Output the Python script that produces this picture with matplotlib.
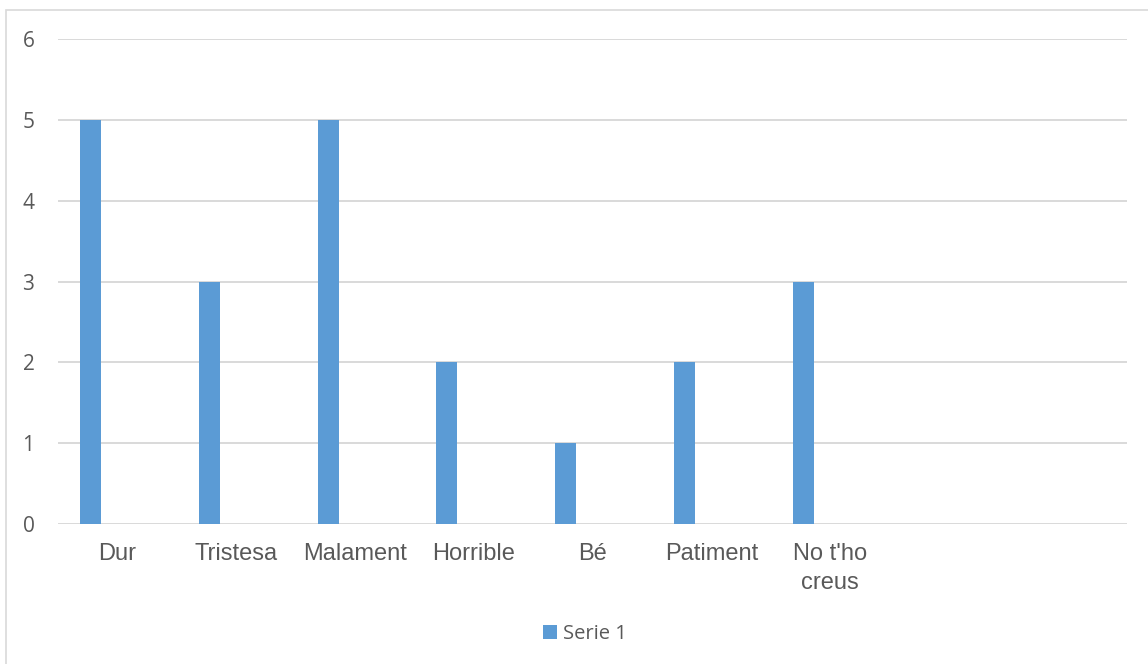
import matplotlib
matplotlib.use("Agg")
import matplotlib.pyplot as plt
from matplotlib.patches import Rectangle
import numpy as np

categories = ["Dur", "Tristesa", "Malament", "Horrible", "Bé", "Patiment", "No t'ho\ncreus", "", ""]
serie1 = [5, 3, 5, 2, 1, 2, 3, np.nan, np.nan]
yticks = [0, 1, 2, 3, 4, 5, 6]
series_name = "Serie 1"

W, H = 1148, 664
fig = plt.figure(figsize=(W / 100, H / 100), dpi=100)
fig.patch.set_facecolor("white")

# outer chart border (Excel style), cut at right/bottom
fig.add_artist(Rectangle((6 / W, -0.01), 1.02, 1 - 10 / H + 0.01, transform=fig.transFigure,
                         fill=False, edgecolor="#D9D9D9", lw=1.2, clip_on=False))

left, right, top, bottom = 58, 1127, 39, 524
ax = fig.add_axes([left / W, 1 - bottom / H, (right - left) / W, (bottom - top) / H])

n = len(categories)
x = np.arange(n)
bar_color = "#5B9BD5"
bars = ax.bar(x - 0.226, serie1, width=0.177, color=bar_color, zorder=3, label=series_name)

ax.set_xlim(-0.5, n - 0.5)
ax.set_ylim(0, 6)
ax.set_yticks(yticks)
ax.set_yticklabels([str(v) for v in yticks], fontfamily="Open Sans", fontsize=15, color="#595959")
ax.set_xticks(x)
ax.set_xticklabels(categories, fontfamily="Liberation Sans", fontsize=17, color="#595959",
                   linespacing=1.4)
ax.tick_params(axis="both", length=0)
ax.tick_params(axis="y", pad=17)
ax.tick_params(axis="x", pad=14)
for s in ax.spines.values():
    s.set_visible(False)
for v in yticks:
    ax.axhline(v, color="#D9D9D9", lw=1.4, zorder=1)

leg = fig.legend(handles=[bars], labels=[series_name], loc="center", bbox_to_anchor=(585 / W, 1 - 634 / H),
                 frameon=False, prop={"family": "Open Sans", "size": 14.5}, handlelength=0.7,
                 handleheight=0.7, handletextpad=0.3)
for t in leg.get_texts():
    t.set_color("#595959")

fig.savefig("out.png", dpi=100, facecolor="white")
